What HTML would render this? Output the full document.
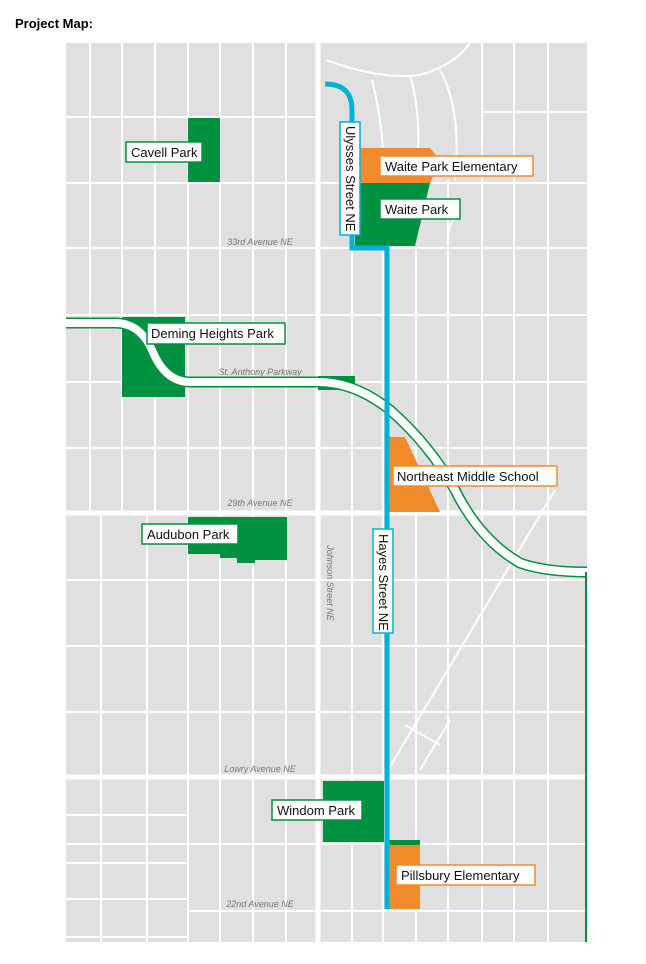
<!DOCTYPE html>
<html><head><meta charset="utf-8"><style>
body{margin:0;background:#fff;width:646px;height:964px;overflow:hidden;font-family:"Liberation Sans",sans-serif}
.t{position:absolute;left:15px;top:16px;font-weight:bold;font-size:13px}
</style></head><body>
<div class="t">Project Map:</div>
<svg width="646" height="964" style="position:absolute;left:0;top:0" font-family="Liberation Sans, sans-serif">
<rect x="66" y="43" width="521" height="899" fill="#e0e0e0"/>
<g stroke="#fff" stroke-width="2" fill="none">
<!-- left verticals top -->
<path d="M90 43V513M122 43V513M155 43V513M188 43V942M220 43V942M253 43V942M286 43V942"/>
<path d="M101 513V942M147 513V942"/>
<path d="M352 248V942M416 248V942M448 180V942M482 43V942M514 43V942M548 43V942"/>
<path d="M383 248V942"/>
<!-- horizontals -->
<path d="M66 117H318M66 183H587M66 248H587M66 315H587M66 382H587M66 448H587M66 580H587M66 646H587M66 712H587M66 844H587M66 815H188M66 863H188M66 899H188M66 937H188M188 911H587"/>
<path d="M482 112H587"/>
<!-- top curves -->
<path d="M326 60Q380 80 420 75Q455 65 470 43M372 80Q380 110 383 150M410 75Q420 110 418 150M440 70Q462 110 455 180M460 215Q446 220 448 250"/>
<path d="M388 770L555 490M405 725L440 745M420 770L450 720"/>
</g>
<path d="M318 43V942M66 513H587M66 777H587" stroke="#fff" stroke-width="5"/>
<!-- parks -->
<g fill="#009140">
<rect x="188" y="118" width="32" height="64"/>
<path d="M355 183H430L415 246H355Z"/>
<rect x="122" y="317" width="63" height="80"/>
<rect x="318" y="376" width="37" height="14"/>
<path d="M188 517H287V560H255V563H237V558H220V554H188Z"/>
<rect x="323" y="781" width="61" height="61"/>
<rect x="389" y="840" width="31" height="6"/>
</g>
<g fill="#f08a2b">
<path d="M360 148H430L440 160L430 183H360Z"/>
<path d="M389 437H405L440 512H389Z"/>
<rect x="389" y="845" width="31" height="64"/>
</g>
<!-- parkway -->
<path d="M66 323H115Q140 323 152 350Q165 382 190 382H318Q355 382 390 410Q430 445 455 490Q480 540 520 563Q545 572 587 572" stroke="#009140" stroke-width="11" fill="none"/>
<path d="M66 323H115Q140 323 152 350Q165 382 190 382H318Q355 382 390 410Q430 445 455 490Q480 540 520 563Q545 572 587 572" stroke="#fff" stroke-width="8" fill="none"/>
<path d="M586 572V942" stroke="#009140" stroke-width="2"/>
<!-- route -->
<path d="M325 84Q352 84 352 110V248H387V909" stroke="#00b2d8" stroke-width="5" fill="none"/>
<!-- street labels -->
<g font-size="9" font-style="italic" fill="#777" text-anchor="middle">
<text x="260" y="245">33rd Avenue NE</text>
<text x="260" y="375">St. Anthony Parkway</text>
<text x="260" y="506">29th Avenue NE</text>
<text x="260" y="772">Lowry Avenue NE</text>
<text x="260" y="907">22nd Avenue NE</text>
<text transform="translate(327,583) rotate(90)">Johnson Street NE</text>
</g>
<!-- labels -->
<g font-size="13" fill="#111">
<rect x="126" y="142" width="76" height="20" fill="#fff" stroke="#009140" stroke-width="1.5"/><text x="131" y="157">Cavell Park</text>
<rect x="380" y="156" width="153" height="20" fill="#fff" stroke="#f08a2b" stroke-width="1.5"/><text x="385" y="171">Waite Park Elementary</text>
<rect x="380" y="199" width="80" height="20" fill="#fff" stroke="#009140" stroke-width="1.5"/><text x="385" y="214">Waite Park</text>
<rect x="147" y="323" width="138" height="21" fill="#fff" stroke="#009140" stroke-width="1.5"/><text x="151" y="338">Deming Heights Park</text>
<rect x="393" y="466" width="164" height="20" fill="#fff" stroke="#f08a2b" stroke-width="1.5"/><text x="397" y="481">Northeast Middle School</text>
<rect x="142" y="524" width="96" height="20" fill="#fff" stroke="#009140" stroke-width="1.5"/><text x="147" y="539">Audubon Park</text>
<rect x="272" y="800" width="90" height="20" fill="#fff" stroke="#009140" stroke-width="1.5"/><text x="277" y="815">Windom Park</text>
<rect x="396" y="865" width="139" height="20" fill="#fff" stroke="#f08a2b" stroke-width="1.5"/><text x="401" y="880">Pillsbury Elementary</text>
<rect x="340" y="122" width="20" height="113" fill="#fff" stroke="#00b2d8" stroke-width="1.5"/><text transform="translate(346,126) rotate(90)">Ulysses Street NE</text>
<rect x="373" y="529" width="20" height="104" fill="#fff" stroke="#00b2d8" stroke-width="1.5"/><text transform="translate(379,534) rotate(90)">Hayes Street NE</text>
</g>
</svg>
</body></html>
